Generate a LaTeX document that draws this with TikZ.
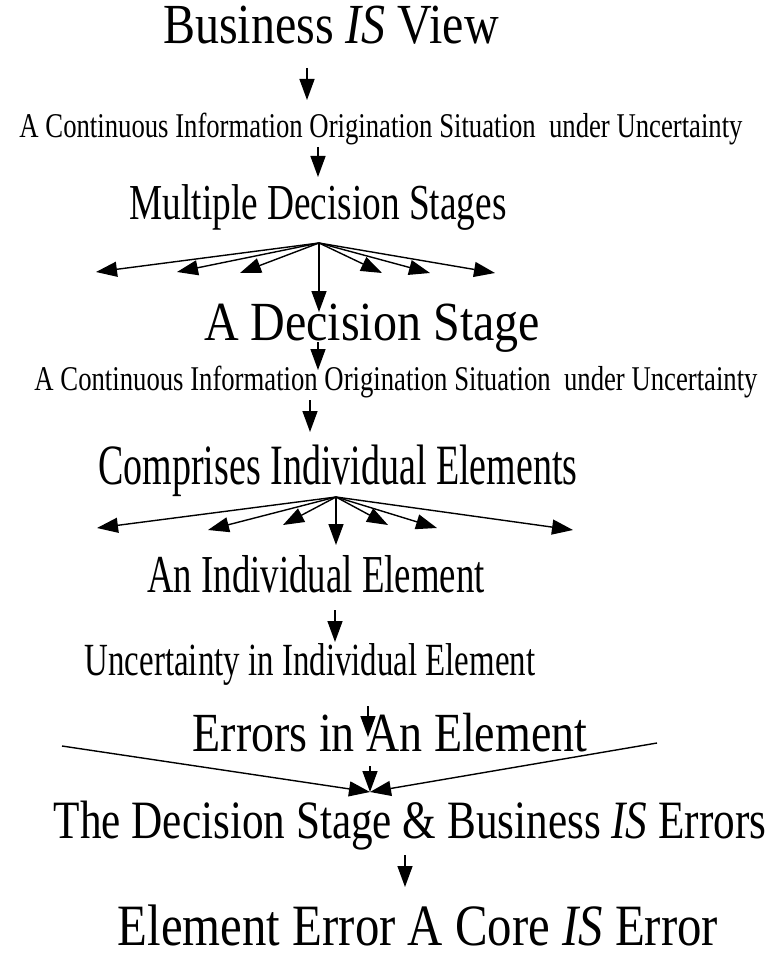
\documentclass[tikz,border=0pt]{standalone}
\usepackage{fontspec}
\setmainfont{Liberation Serif}
\usetikzlibrary{arrows.meta}

% text stretched vertically by a factor
\newcommand{\tallbox}[2]{\scalebox{1}[#1]{#2}}

\begin{document}
\begin{tikzpicture}[x=1pt,y=-1pt,
  lbl/.style={anchor=base, inner sep=0pt, font=\fontsize{#1}{#1}\selectfont},
  arr/.style={line width=1.4pt, -{Triangle[length=21pt,width=15pt]}}]
\useasboundingbox (0,0) rectangle (774,957);

% text levels
\node[lbl=48]   (biz)   at (331,44)  {\tallbox{1.18}{Business \textit{IS} View}};
\node[lbl=26.7] (cio1)  at (381,138) {\tallbox{1.3}{A Continuous Information Origination Situation\ \ under Uncertainty}};
\node[lbl=37.3] (mds)   at (318,220) {\tallbox{1.35}{Multiple Decision Stages}};
\node[lbl=48]   (ads)   at (372,340) {\tallbox{1.15}{A Decision Stage}};
\node[lbl=26.7] (cio2)  at (396,390) {\tallbox{1.3}{A Continuous Information Origination Situation\ \ under Uncertainty}};
\node[lbl=38]   (cie)   at (338,484) {\tallbox{1.5}{Comprises Individual Elements}};
\node[lbl=36.8] (aie)   at (316,592) {\tallbox{1.45}{An Individual Element}};
\node[lbl=32.9] (uie)   at (310,675) {\tallbox{1.4}{Uncertainty in Individual Element}};
\node[lbl=46]   (eae)   at (390,751) {\tallbox{1.2}{Errors in An Element}};
\node[lbl=43.2] (dsb)   at (410,838) {\tallbox{1.25}{The Decision Stage \& Business \textit{IS} Errors}};
\node[lbl=48.8] (eec)   at (418,945) {\tallbox{1.2}{Element Error A Core \textit{IS} Error}};

% arrow end points
\coordinate (a1s) at (307,68);  \coordinate (a1e) at (307,100);
\coordinate (a2s) at (318,147); \coordinate (a2e) at (318,177);
\coordinate (a3s) at (318,342); \coordinate (a3e) at (318,370);
\coordinate (a4s) at (310,400); \coordinate (a4e) at (310,432);
\coordinate (a5s) at (335,610); \coordinate (a5e) at (335,642);
\coordinate (a6s) at (368,706); \coordinate (a6e) at (368,737);
\coordinate (a7s) at (405,855); \coordinate (a7e) at (405,887);

\draw[arr] (a1s) -- (a1e);
\draw[arr] (a2s) -- (a2e);
\draw[arr] (a3s) -- (a3e);
\draw[arr] (a4s) -- (a4e);
\draw[arr] (a5s) -- (a5e);
\draw[arr] (a6s) -- (a6e);
\draw[arr] (a7s) -- (a7e);

% first fan: the decision stages
\coordinate (f1) at (319,243);
\foreach \x/\y in {96/272,177/272,240/273,319/312,382/273,430/273,495/273}
  \draw[arr] (f1) -- (\x,\y);

% second fan: the individual elements
\coordinate (f2) at (336,497);
\foreach \x/\y in {97/528,208/530,283/525,336/545,388/525,437/528,573/530}
  \draw[arr] (f2) -- (\x,\y);

% merging into the stage errors
\coordinate (m)  at (370,792);
\coordinate (ml) at (62,746);
\coordinate (mr) at (657,743);
\coordinate (mc) at (370,766);
\draw[arr] (ml) -- (m);
\draw[arr] (mr) -- (m);
\draw[arr] (mc) -- (m);
\end{tikzpicture}
\end{document}
